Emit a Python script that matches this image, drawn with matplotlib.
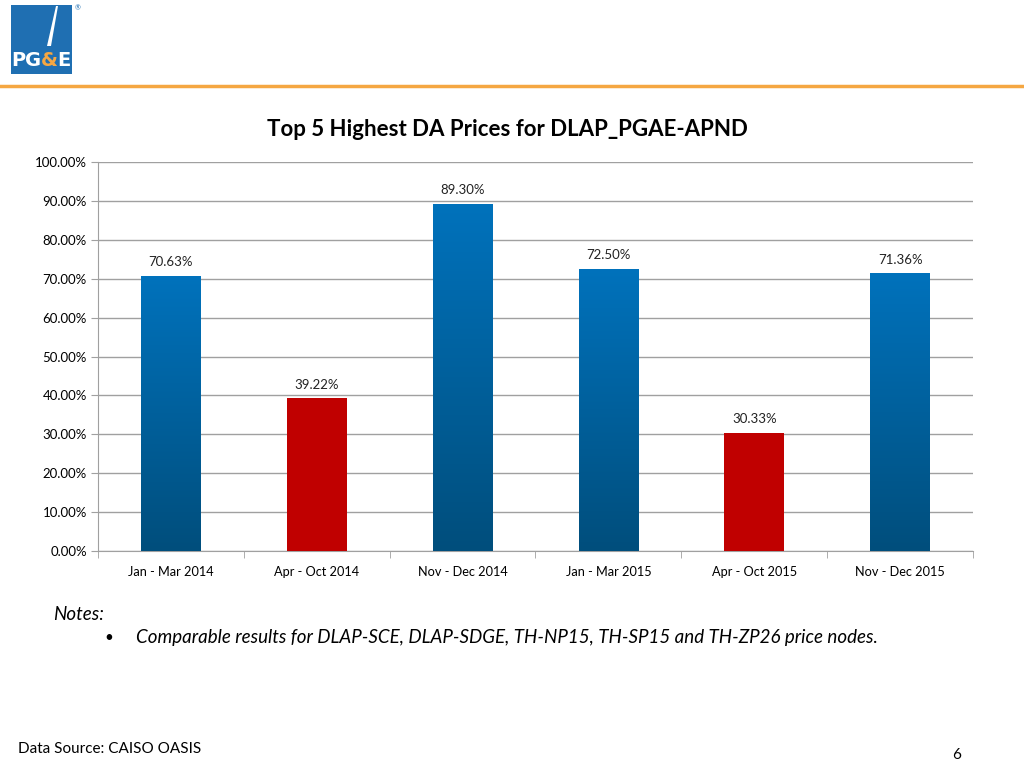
import numpy as np
import matplotlib.pyplot as plt
from matplotlib.patches import Rectangle, Polygon

plt.rcParams['font.family'] = ['Lato', 'DejaVu Sans']

periods = ['Jan - Mar 2014', 'Apr - Oct 2014', 'Nov - Dec 2014',
           'Jan - Mar 2015', 'Apr - Oct 2015', 'Nov - Dec 2015']
shares = [70.63, 39.22, 89.30, 72.50, 30.33, 71.36]
is_red = [False, True, False, False, True, False]

fig = plt.figure(figsize=(10.24, 7.68), dpi=100)

# header: logo + orange rule
fig.add_artist(Rectangle((11 / 1024, 1 - 74 / 768), 61 / 1024, 69 / 768,
                         transform=fig.transFigure, color='#1f6fb2', lw=0))
fig.add_artist(Polygon([(47 / 1024, 1 - 46 / 768), (51 / 1024, 1 - 46 / 768),
                        (58 / 1024, 1 - 6 / 768), (56 / 1024, 1 - 6 / 768)],
                       closed=True, transform=fig.transFigure, color='white', lw=0))
logo_font = ['Liberation Sans Narrow', 'DejaVu Sans']
for ch, xpos, col in [('P', 18, 'white'), ('G', 33, 'white'), ('&', 49, '#f5a742'), ('E', 64, 'white')]:
    fig.text(xpos / 1024, 1 - 61 / 768, ch, ha='center', va='center', fontsize=14,
             fontweight='bold', color=col, family=logo_font)
fig.text(75 / 1024, 1 - 4 / 768, '®', fontsize=5, color='#1f6fb2', va='top')
fig.add_artist(plt.Line2D([0, 1], [1 - 86 / 768] * 2, transform=fig.transFigure,
                          color='#f5a742', lw=2.5))

ax = fig.add_axes([98 / 1024, 1 - 551 / 768, 875 / 1024, 389 / 768])
x = np.arange(len(periods))
bars = ax.bar(x, shares, width=0.41, color='none', zorder=3)

grad = np.linspace(1, 0, 256).reshape(-1, 1)
top_c = np.array([0x00, 0x72, 0xBC]) / 255
bot_c = np.array([0x00, 0x4E, 0x7C]) / 255
for b, red, v in zip(bars, is_red, shares):
    if red:
        b.set_facecolor('#c00000')
    else:
        img = grad[:, :, None] * top_c + (1 - grad[:, :, None]) * bot_c
        im = ax.imshow(img, extent=[b.get_x(), b.get_x() + b.get_width(), 0, v],
                       aspect='auto', zorder=3)
        im.set_clip_path(b)
    ax.text(b.get_x() + b.get_width() / 2, v + 2.0, f'{v:.2f}%', ha='center',
            va='bottom', fontsize=9.5, color='#222222')

ax.set_xlim(-0.5, len(periods) - 0.5)
ax.set_ylim(0, 100)
ax.set_yticks(np.arange(0, 101, 10))
ax.set_yticklabels([f'{t:.2f}%' for t in np.arange(0, 101, 10)], fontsize=9.5)
ax.set_xticks(x)
ax.set_xticklabels(periods, fontsize=9.2)
ax.set_xticks(np.arange(-0.5, len(periods), 1), minor=True)
ax.tick_params(axis='x', which='major', length=0, pad=11)
ax.tick_params(axis='x', which='minor', length=5, color='#a0a0a0')
ax.tick_params(axis='y', length=5, color='#a0a0a0', pad=3)
ax.grid(axis='y', color='#a0a0a0', lw=1, zorder=0)
for s in ['top', 'right']:
    ax.spines[s].set_visible(False)
ax.spines['left'].set_color('#a0a0a0')
ax.spines['bottom'].set_color('#a0a0a0')

fig.text(507 / 1024, 1 - 130 / 768, 'Top 5 Highest DA Prices for DLAP_PGAE-APND',
         ha='center', va='center', fontsize=16, fontweight='bold')

fig.text(53 / 1024, 1 - 614 / 768, 'Notes:', fontsize=13.5, style='italic', va='center')
fig.text(104 / 1024, 1 - 638 / 768, '•', fontsize=11, va='center')
fig.text(136 / 1024, 1 - 638 / 768,
         'Comparable results for DLAP-SCE, DLAP-SDGE, TH-NP15, TH-SP15 and TH-ZP26 price nodes.',
         fontsize=13.5, style='italic', va='center')
fig.text(18 / 1024, 1 - 749 / 768, 'Data Source: CAISO OASIS', fontsize=11, va='center')
fig.text(957 / 1024, 1 - 755 / 768, '6', fontsize=11, va='center', ha='center')

fig.savefig('out.png', dpi=100)
